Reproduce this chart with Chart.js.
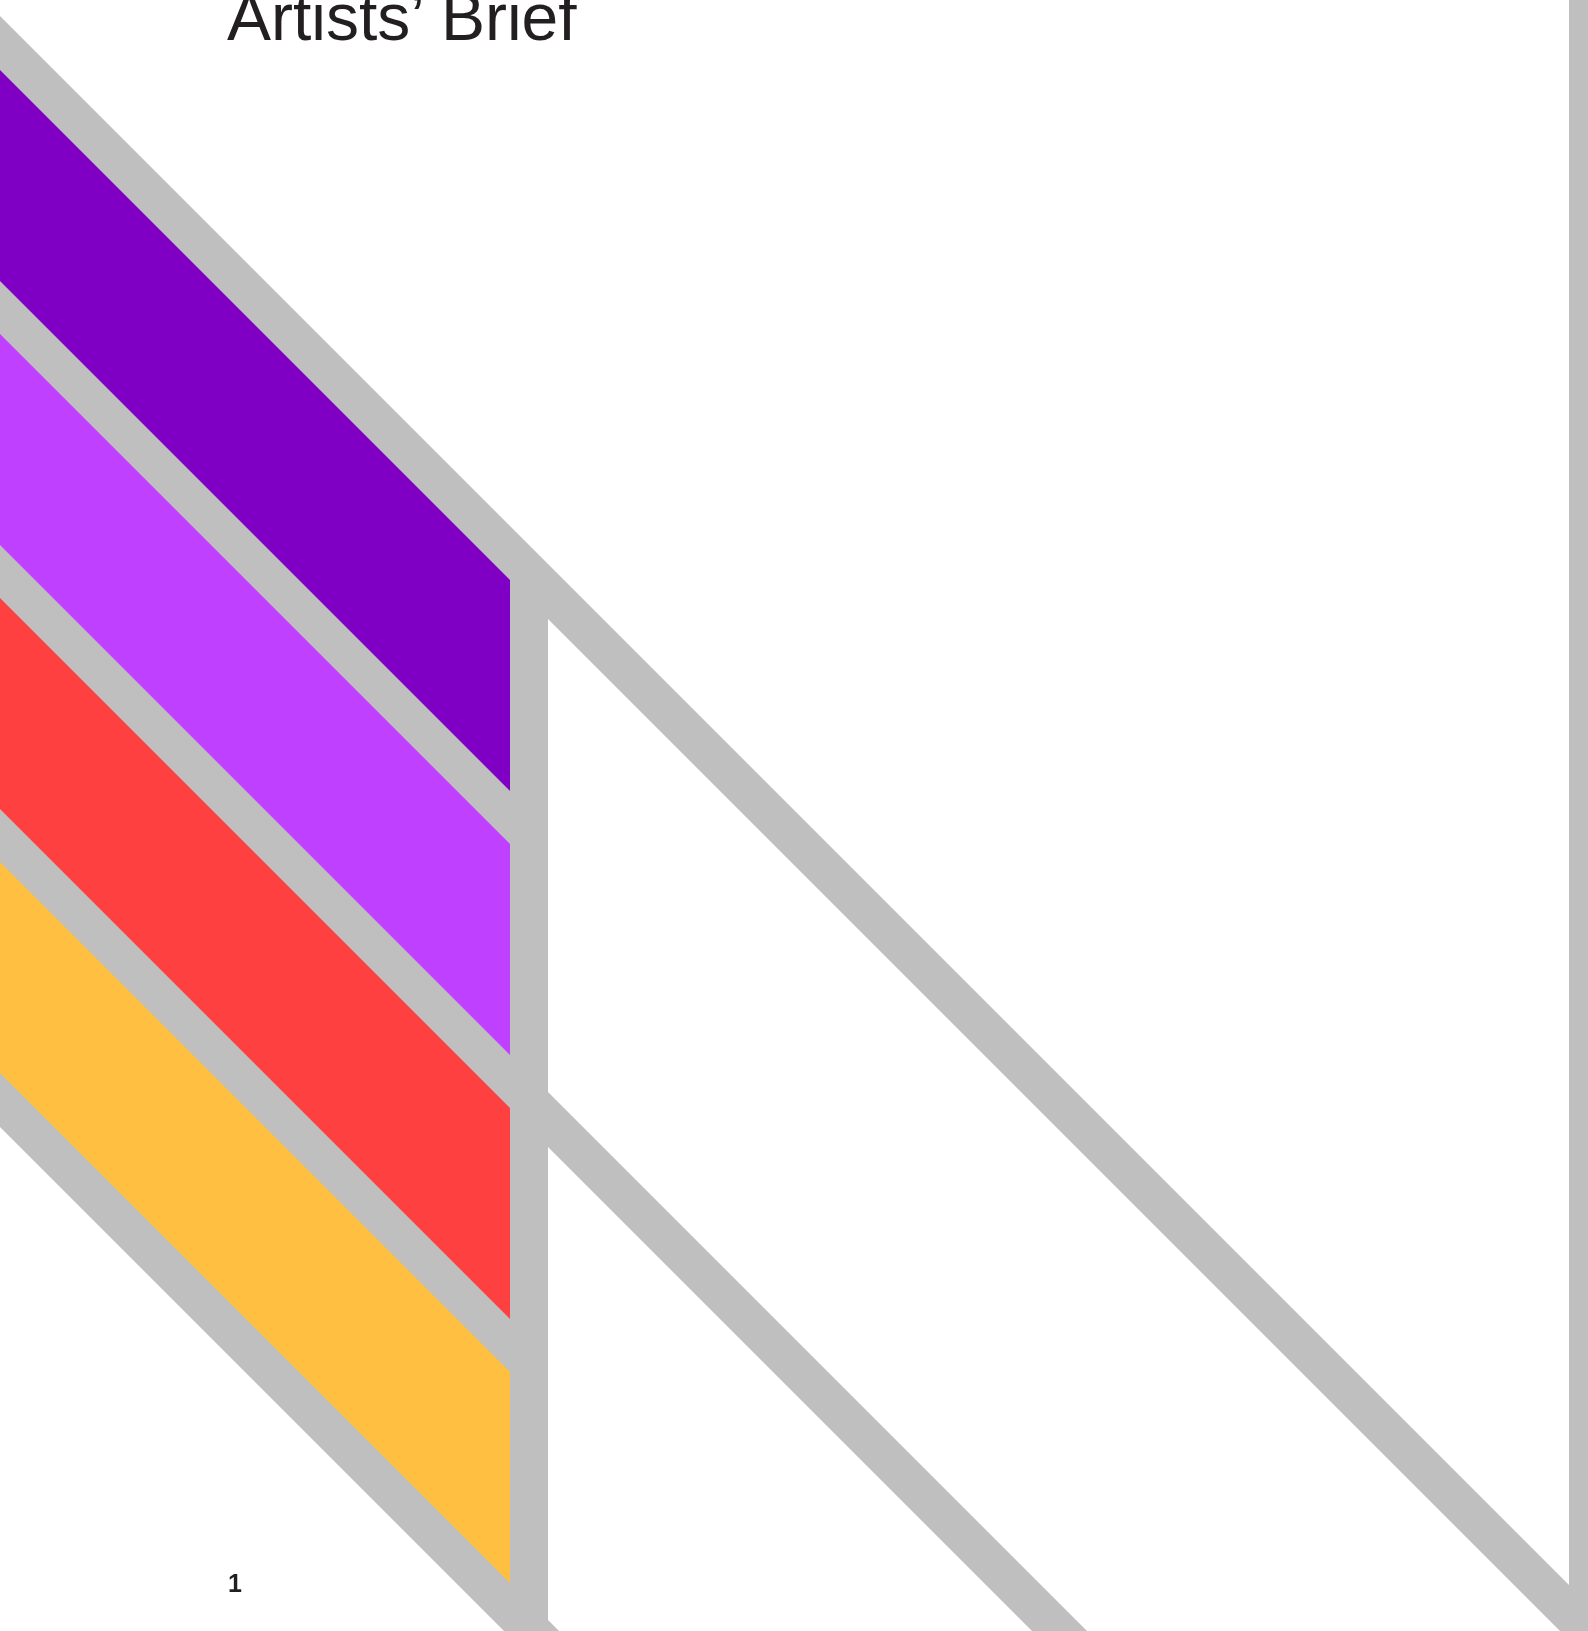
<!DOCTYPE html>
<html>
<head>
<meta charset="utf-8">
<title>Artists’ Brief</title>
<script src="https://cdn.jsdelivr.net/npm/chart.js@4.4.1/dist/chart.umd.min.js"></script>
<style>
    html, body {margin: 0; padding: 0; background: #fff; overflow: hidden;}
    #pagina {position: relative; width: 1588px; height: 1631px;}
    #pagina canvas {position: absolute; left: 0; top: 0;}
    .titulo {
        position: absolute; left: 227px; top: -16px;
        font: 66px "Liberation Sans", Arial, Helvetica, sans-serif;
        line-height: 66px; color: #231F20; white-space: nowrap;
    }
    .folio {
        position: absolute; left: 228px; top: 1571px;
        font: bold 25px "Liberation Sans", Arial, Helvetica, sans-serif;
        line-height: 25px; color: #231F20;
    }
</style>
</head>
<body>
<div id="pagina">
    <canvas id="poster"></canvas>
    <div class="titulo">Artists’ Brief</div>
    <div class="folio">1</div>
</div>
<script>
// faixas coloridas, de cima para baixo
const faixas = ['Violeta', 'Lilás', 'Vermelho', 'Âmbar'];
// onde a borda de cima de cada régua cinza corta x = 0 (unidades do poster)
const reguas = [17, 281, 545, 809, 1073];
const larguraRegua = 53;
// régua segue para a direita depois do poste?
const reguaContinua = [true, false, true, false, true];
// poste vertical e borda direita (x inicial, x final)
const poste = [510, 548];
const borda = [1569, 1588];

const coresFaixas = ['#7F00C4', '#BF40FF', '#FF4040', '#FFBF40'];
const cinza = '#BFBFBF';

const W = 1588, H = 1631;

function poligono(label, pontos, cor, ordem) {
    return {
        label,
        data: pontos.map(p => ({x: p[0], y: p[1]})),
        backgroundColor: cor,
        borderColor: 'rgba(0,0,0,0)',
        borderWidth: 0,
        pointRadius: 0,
        fill: 'shape',
        order: ordem
    };
}

const datasets = [];

faixas.forEach((nome, i) => {
    const topo = reguas[i] + larguraRegua;
    const base = reguas[i + 1];
    const xf = poste[0];
    datasets.push(poligono(nome, [[0, topo], [xf, xf + topo], [xf, xf + base], [0, base]], coresFaixas[i], 0));
});

reguas.forEach((a, i) => {
    const xf = reguaContinua[i] ? W : poste[1];
    const a0 = a - 1, a1 = a + larguraRegua + 1;
    datasets.push(poligono('Régua ' + (i + 1), [[0, a0], [xf, xf + a0], [xf, xf + a1], [0, a1]], cinza, 1));
});

datasets.push(poligono('Poste', [[poste[0], 572], [poste[1], 572], [poste[1], H], [poste[0], H]], cinza, 1));
datasets.push(poligono('Borda', [[borda[0], 0], [borda[1], 0], [borda[1], H], [borda[0], H]], cinza, 1));

const ctx = document.getElementById('poster');

new Chart(ctx, {
    type: 'line',
    data: {datasets},
    options: {
        responsive: true,
        maintainAspectRatio: false,
        animation: false,
        events: [],
        layout: {padding: 0},
        plugins: {
            legend: {display: false},
            tooltip: {enabled: false},
            title: {display: false}
        },
        elements: {
            line: {tension: 0}
        },
        scales: {
            x: {type: 'linear', min: 0, max: W, display: false},
            y: {type: 'linear', min: 0, max: H, reverse: true, display: false}
        }
    }
});
</script>
</body>
</html>
